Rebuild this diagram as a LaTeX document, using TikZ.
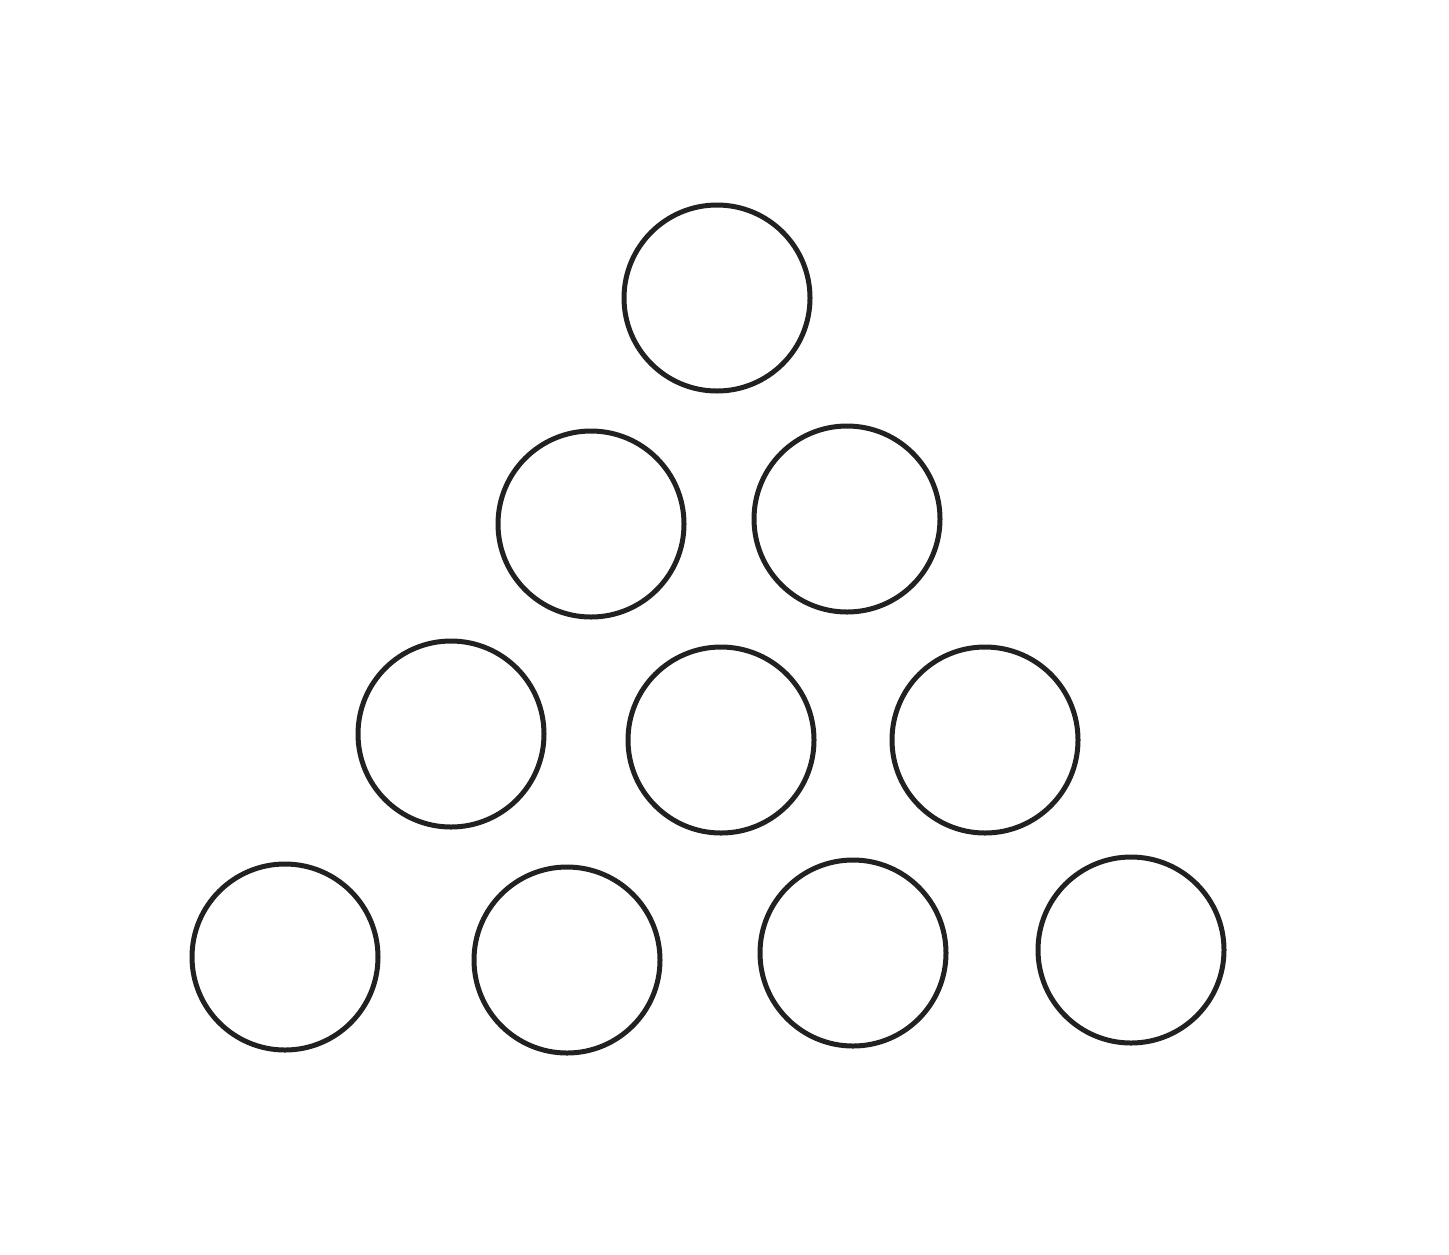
\documentclass[tikz,border=0pt]{standalone}
\begin{document}
\begin{tikzpicture}[x=0.5pt,y=-0.5pt,
  ball/.style={circle,draw=black!87,line width=2.5pt,minimum size=93pt,inner sep=0pt}]
\useasboundingbox (0,0) rectangle (1449,1254);
\node[ball] (b1) at (717,298) {};
\node[ball] (b2) at (591,524) {};
\node[ball] (b3) at (847,519) {};
\node[ball] (b4) at (451,734) {};
\node[ball] (b5) at (721,740) {};
\node[ball] (b6) at (985,740) {};
\node[ball] (b7) at (285,957) {};
\node[ball] (b8) at (567,960) {};
\node[ball] (b9) at (853,953) {};
\node[ball] (b10) at (1131,950) {};
\end{tikzpicture}
\end{document}
